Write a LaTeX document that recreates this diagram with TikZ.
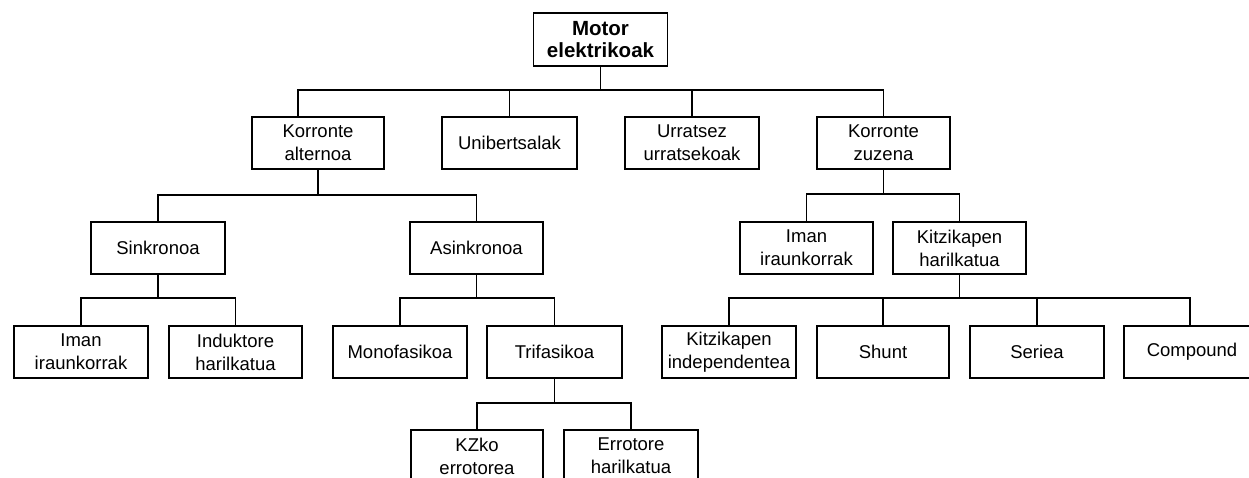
\documentclass[tikz,border=0pt]{standalone}
\usepackage{fontspec}
\setmainfont{Liberation Sans}
\begin{document}
\begin{tikzpicture}[x=1pt,y=-1pt,
  box/.style={draw=black, line width=1.8pt, fill=white, minimum width=134pt,
    minimum height=52pt, inner sep=0pt, align=center,
    font=\fontsize{18.5}{23}\selectfont},
  rootbox/.style={box, minimum height=53pt,
    font=\fontsize{20.5}{22}\selectfont\bfseries},
  link/.style={draw=black, line width=1.8pt}]
\useasboundingbox (0,0) rectangle (1249,477);
\fill[white] (0,0) rectangle (1249,477);
\begin{scope}
\clip (0,0) rectangle (1249,477);

% root
\node[rootbox] (motor) at (600.5,39.5) {Motor\\elektrikoak};

% first level
\node[box, minimum width=132pt] (ka)  at (318,143)   {Korronte\\alternoa};
\node[box, minimum width=135pt] (uni) at (509.5,143) {Unibertsalak};
\node[box] (urr) at (692,143)   {Urratsez\\urratsekoak};
\node[box, minimum width=133pt] (kz)  at (883.5,143) {Korronte\\zuzena};

% second level
\node[box] (sink)  at (158,248)   {Sinkronoa};
\node[box, minimum width=133pt] (asink) at (476.5,248) {Asinkronoa};
\node[box, minimum width=133pt] (imanR) at (806.5,248) {Iman\\iraunkorrak};
\node[box, minimum width=133pt] (kh)    at (959.5,248) {Kitzikapen\\harilkatua};

% third level
\node[box] (imanL) at (81,352)    {Iman\\iraunkorrak};
\node[box, minimum width=133pt] (ind)   at (235.5,352) {Induktore\\harilkatua};
\node[box] (mono)  at (400,352)   {Monofasikoa};
\node[box, minimum width=135pt] (tri)   at (554.5,352) {Trifasikoa};
\node[box] (ki)    at (729,352)   {Kitzikapen\\independentea};
\node[box, minimum width=132pt] (shunt) at (883,352)   {Shunt};
\node[box] (ser)   at (1037,352)  {Seriea};
\node[box, minimum width=136pt] (comp)  at (1192,352) {Compound};

% fourth level
\node[box, minimum width=132pt] (kzko) at (477,456) {KZko\\errotorea};
\node[box] (err)  at (631,456) {Errotore\\harilkatua};

% branching points of the buses
\coordinate (b0) at (600.5,90);
\coordinate (kaIn) at (298,117);
\coordinate (b1) at (318,195);
\coordinate (b2) at (883.5,194);
\coordinate (b3) at (158,298);
\coordinate (b4) at (476.5,298);
\coordinate (b5) at (959.5,298);
\coordinate (b6) at (554.5,403);
\coordinate (compIn) at (1190,326);

% connectors
\path[link] (motor.south) -- (b0);
\path[link] (b0) -| (kaIn);
\path[link] (b0) -| (uni.north);
\path[link] (b0) -| (urr.north);
\path[link] (b0) -| (kz.north);

\path[link] (ka.south) -- (b1);
\path[link] (b1) -| (sink.north);
\path[link] (b1) -| (asink.north);

\path[link] (kz.south) -- (b2);
\path[link] (b2) -| (imanR.north);
\path[link] (b2) -| (kh.north);

\path[link] (sink.south) -- (b3);
\path[link] (b3) -| (imanL.north);
\path[link] (b3) -| (ind.north);

\path[link] (asink.south) -- (b4);
\path[link] (b4) -| (mono.north);
\path[link] (b4) -| (tri.north);

\path[link] (kh.south) -- (b5);
\path[link] (b5) -| (ki.north);
\path[link] (b5) -| (shunt.north);
\path[link] (b5) -| (ser.north);
\path[link] (b5) -| (compIn);

\path[link] (tri.south) -- (b6);
\path[link] (b6) -| (kzko.north);
\path[link] (b6) -| (err.north);
\end{scope}
\end{tikzpicture}
\end{document}
